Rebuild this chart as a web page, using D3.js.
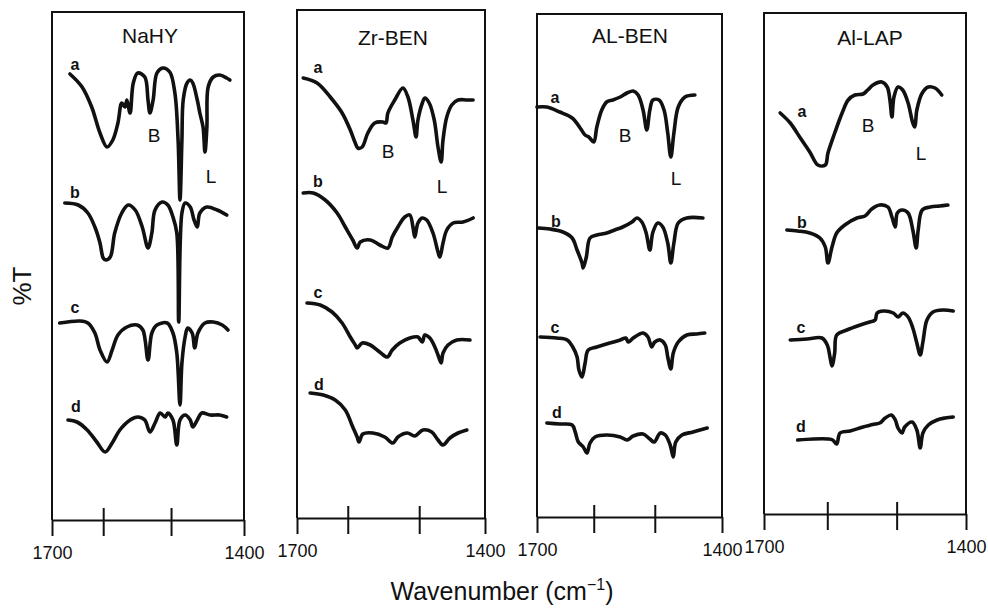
<!DOCTYPE html>
<html><head><meta charset="utf-8">
<script src="https://cdn.jsdelivr.net/npm/d3@7"></script>
<style>
body{margin:0;background:#fff}
svg{display:block}
text{font-family:"Liberation Sans",Arial,Helvetica,sans-serif;fill:#111}
</style>
</head><body>
<svg id="chart" width="988" height="609"></svg>
<script>
// ---------------- DATA ----------------
const panelNames = ["NaHY", "Zr-BEN", "AL-BEN", "Al-LAP"];
const traceLetters = ["a", "b", "c", "d"];
const bandLabels = ["B", "L"];
const xDomain = [1700, 1400];
const yDomain = [0, 254];              // %T, arbitrary offset units
const edgeTickLabels = [1700, 1400];
const innerTicks = [[1620, 1514], [1619, 1505], [1608, 1509], [1606, 1503]];

// NaHY  [wavenumber, %T]
const nahyA = [[1672,223],[1653,216.5],[1638,206.5],[1625,193.5],[1614,186.5],[1605,190],[1597,198.5],[1591,208.5],[1586,206.5],[1583,210],[1578,203.5],[1573,218.5],[1566,223.5],[1555,221.5],[1550,210],[1547,203.5],[1542,210],[1536,223.5],[1527,226],[1516,224],[1508,213.5],[1503,190],[1500,160],[1497,190],[1495,210],[1489,218.5],[1484,220],[1480,218.5],[1473,210],[1469,203.5],[1464,196.5],[1461,184],[1458,196.5],[1456,216.5],[1448,221.5],[1438,222.5],[1427,221],[1422,220]];
const nahyB = [[1680,158.5],[1659,157.5],[1644,153.5],[1633,146.5],[1625,138.5],[1620,131],[1616,130],[1609,131.5],[1602,143.5],[1591,153.5],[1581,157.5],[1570,155],[1559,146.5],[1550,136],[1544,143.5],[1539,155],[1528,159],[1519,157.5],[1511,151.5],[1505,143.5],[1502,99],[1497,153.5],[1492,158.5],[1484,156.5],[1478,150],[1473,146.5],[1469,153.5],[1458,156.5],[1442,155],[1427,152.5]];
const nahyC = [[1688,98.5],[1656,99.5],[1644,98.5],[1633,93.5],[1625,85],[1614,79],[1606,85],[1597,92.5],[1583,96.5],[1567,97.5],[1558,95],[1550,80],[1544,93.5],[1536,97.5],[1520,98.5],[1511,93.5],[1505,83.5],[1500,57.5],[1497,78.5],[1492,91.5],[1488,96],[1481,93.5],[1477,86],[1472,93.5],[1461,98.5],[1448,99],[1434,97.5],[1425,95]];
const nahyD = [[1675,50],[1661,49],[1645,45],[1630,39],[1617,34],[1606,38.5],[1594,45],[1578,50],[1566,51.5],[1555,50],[1547,44],[1539,48.5],[1531,53.5],[1523,51.5],[1519,53.5],[1511,50],[1505,37.5],[1500,50],[1492,52.5],[1484,50],[1480,46.5],[1473,50],[1466,53.5],[1453,52.5],[1438,52.5],[1427,51.5]];

// Zr-BEN
const zrA = [[1690,221],[1668,218.5],[1647,211.5],[1628,203.5],[1615,195],[1607,188.5],[1603,186],[1596,186.5],[1587,193.5],[1576,198.5],[1563,199],[1558,198.5],[1555,203.5],[1544,210],[1531,216],[1523,211.5],[1515,200],[1510,191.5],[1507,200],[1500,208.5],[1496,211],[1489,208.5],[1481,200],[1475,186.5],[1470,179],[1467,190],[1461,201.5],[1453,207.5],[1443,210],[1429,210],[1419,210]];
const zrB = [[1690,163.5],[1674,163.5],[1655,160],[1636,153.5],[1623,146.5],[1611,140],[1604,136],[1599,139],[1583,140],[1568,137.5],[1555,136],[1548,141.5],[1539,146.5],[1528,151.5],[1520,152.5],[1515,146.5],[1512,141.5],[1507,148.5],[1500,151],[1493,150],[1483,143.5],[1475,134],[1472,131.5],[1467,138.5],[1461,145],[1451,148.5],[1435,149],[1419,151]];
const zrC = [[1684,108.5],[1663,107.5],[1644,104],[1628,98.5],[1615,91.5],[1607,87.5],[1604,86],[1596,88.5],[1583,87.5],[1568,84],[1556,81.5],[1548,85],[1536,88.5],[1520,91],[1507,91.5],[1500,89],[1496,92.5],[1488,91],[1480,86.5],[1475,82.5],[1470,78.5],[1467,83.5],[1459,87.5],[1445,90],[1424,90]];
const zrD = [[1679,63.5],[1658,62.5],[1639,60],[1623,55],[1611,46.5],[1604,41.5],[1601,39],[1595,43],[1579,43.5],[1560,41.5],[1547,38.5],[1539,41.5],[1524,43.5],[1512,42],[1499,45],[1485,44],[1475,40],[1467,37.5],[1456,41],[1443,43.5],[1429,45]];

// AL-BEN
const alA = [[1700,206.5],[1684,206.5],[1663,204],[1643,201],[1630,196],[1622,192.5],[1616,191.5],[1608,189],[1603,196.5],[1595,205],[1587,209],[1577,210],[1565,211.5],[1554,213.5],[1544,214.5],[1536,212.5],[1528,205],[1522,195],[1517,205],[1512,210],[1502,210],[1494,205],[1488,193.5],[1483,181.5],[1478,193.5],[1471,206.5],[1460,211.5],[1444,212.5]];
const alB = [[1698,146],[1679,145.5],[1658,144],[1643,141],[1635,135],[1627,128.5],[1625,126],[1620,131.5],[1614,141],[1603,142.5],[1587,143.5],[1574,145],[1561,146.5],[1546,149],[1538,151],[1530,149],[1523,143.5],[1517,135],[1512,144],[1504,148.5],[1496,146.5],[1488,138.5],[1483,128.5],[1478,138.5],[1471,148.5],[1457,151],[1431,151]];
const alC = [[1695,91.5],[1668,91],[1651,90],[1642,86.5],[1635,81.5],[1632,75],[1627,71.5],[1622,78.5],[1617,85],[1603,86.5],[1582,88.5],[1565,90],[1556,91],[1552,89],[1544,91],[1528,93.5],[1520,91.5],[1514,86.5],[1509,89],[1500,90],[1492,87.5],[1488,81.5],[1483,75.5],[1479,83.5],[1471,89],[1457,92.5],[1441,93],[1428,93.5]];
const alD = [[1684,48.5],[1663,48],[1643,47.5],[1638,44],[1633,39],[1625,36.5],[1619,33.5],[1614,38.5],[1606,41.5],[1587,42.5],[1565,41.5],[1554,40],[1544,42],[1528,43],[1517,40.5],[1510,39],[1500,43.5],[1492,42.5],[1484,37.5],[1479,31.5],[1475,39],[1465,42.5],[1447,44],[1424,46]];

// Al-LAP
const lapA = [[1676,203.5],[1661,198.5],[1647,191.5],[1632,184],[1620,177.5],[1609,177.5],[1605,183.5],[1595,193.5],[1584,203.5],[1575,210],[1565,212.5],[1553,213],[1546,215],[1538,217.5],[1525,219],[1517,216.5],[1513,210],[1510,201.5],[1507,211.5],[1501,216.5],[1494,215],[1486,208.5],[1479,198.5],[1476,196.5],[1473,205],[1465,213.5],[1456,216.5],[1446,216],[1436,212.5]];
const lapB = [[1666,145],[1650,144.5],[1632,143.5],[1617,141],[1609,136.5],[1605,128.5],[1599,136.5],[1592,143.5],[1580,147.5],[1562,151],[1550,152],[1540,155.5],[1528,157.5],[1516,156.5],[1510,151.5],[1505,146.5],[1502,153.5],[1495,155],[1486,153.5],[1479,145],[1474,136],[1471,145],[1465,155],[1453,156.5],[1439,157],[1427,157.5]];
const lapC = [[1661,90],[1636,90.5],[1614,91],[1606,87.5],[1602,81.5],[1599,77],[1595,83.5],[1592,92.5],[1577,95],[1557,97.5],[1543,99],[1535,100],[1532,103.5],[1523,104.5],[1508,103.5],[1501,101.5],[1494,103.5],[1486,101.5],[1479,96],[1473,88.5],[1468,82.5],[1464,89],[1458,100],[1449,104],[1434,105],[1419,104.5]];
const lapD = [[1650,40],[1627,40.5],[1605,40.5],[1598,40],[1592,38],[1587,43.5],[1572,44.5],[1553,46.5],[1535,48],[1528,48.5],[1520,51],[1511,52.5],[1505,50],[1501,46],[1495,43.5],[1491,46.5],[1480,49],[1473,45],[1468,36],[1464,43.5],[1456,47.5],[1443,50],[1431,51],[1419,51.5]];

const spectra = [
  [nahyA, nahyB, nahyC, nahyD],
  [zrA, zrB, zrC, zrD],
  [alA, alB, alC, alD],
  [lapA, lapB, lapC, lapD]
];

// ---------------- LAYOUT (pixels) ----------------
const layout = [
  {left:52,  right:244, top:12, axis:520, title:[150,43],
   letters:[[75,70],[75,198],[75,313],[76,412]], bands:[[154,142],[211,183]]},
  {left:297, right:485, top:10, axis:518, title:[393,45],
   letters:[[318,73],[318,187],[318,298],[319,390]], bands:[[388,158],[442,193]]},
  {left:537, right:722, top:14, axis:517, title:[630,43],
   letters:[[555,103],[556,227],[555,333],[557,418]], bands:[[625,142],[676,185]]},
  {left:764, right:966, top:13, axis:514, title:[870,45],
   letters:[[802,117],[802,228],[801,333],[801,432]], bands:[[868,132],[921,160]]}
];

const svg = d3.select("#chart");
const y = d3.scaleLinear().domain(yDomain).range([520, 12]);

layout.forEach((L, i) => {
  const x = d3.scaleLinear().domain(xDomain).range([L.left, L.right]);
  const g = svg.append("g");

  // frame (top + sides)
  g.append("path")
    .attr("d", `M${L.left},${L.axis}V${L.top}H${L.right}V${L.axis}`)
    .attr("fill", "none").attr("stroke", "#111").attr("stroke-width", 2);

  // axis
  const ax = g.append("g")
    .attr("transform", `translate(0,${L.axis})`)
    .call(d3.axisBottom(x)
      .tickValues([xDomain[0], ...innerTicks[i], xDomain[1]])
      .tickSizeInner(16).tickSizeOuter(0)
      .tickFormat(d => edgeTickLabels.includes(d) ? d : ""));
  ax.select(".domain").attr("stroke", "#111").attr("stroke-width", 2);
  ax.selectAll(".tick line")
    .attr("stroke", "#111").attr("stroke-width", 2)
    .attr("y1", d => edgeTickLabels.includes(d) ? 0 : -12);
  ax.selectAll(".tick text")
    .attr("y", 39).attr("dy", 0)
    .style("font-size", "18px").style("font-family", "Liberation Sans, Arial, sans-serif")
    .attr("fill", "#111");

  // title
  g.append("text").attr("x", L.title[0]).attr("y", L.title[1])
    .attr("text-anchor", "middle").style("font-size", "21px").text(panelNames[i]);

  // spectra
  const line = d3.line().x(d => x(d[0])).y(d => y(d[1])).curve(d3.curveCatmullRom.alpha(0.5));
  spectra[i].forEach(s => {
    g.append("path").attr("d", line(s))
      .attr("fill", "none").attr("stroke", "#111")
      .attr("stroke-width", 3.6).attr("stroke-linejoin", "round").attr("stroke-linecap", "round");
  });

  // trace letters
  L.letters.forEach((p, j) => {
    g.append("text").attr("x", p[0]).attr("y", p[1]).attr("text-anchor", "middle")
      .style("font-size", "16px").style("font-weight", "bold").text(traceLetters[j]);
  });
  // band labels
  L.bands.forEach((p, j) => {
    g.append("text").attr("x", p[0]).attr("y", p[1]).attr("text-anchor", "middle")
      .style("font-size", "19px").text(bandLabels[j]);
  });
});

// axis titles
svg.append("text")
  .attr("transform", "translate(31,286) rotate(-90)")
  .attr("text-anchor", "middle").style("font-size", "26px").text("%T");

const xt = svg.append("text").attr("x", 502).attr("y", 600)
  .attr("text-anchor", "middle").style("font-size", "25px");
xt.append("tspan").text("Wavenumber (cm");
xt.append("tspan").attr("dy", -10).style("font-size", "16px").text("\u22121");
xt.append("tspan").attr("dy", 10).text(")");
</script>
</body></html>
